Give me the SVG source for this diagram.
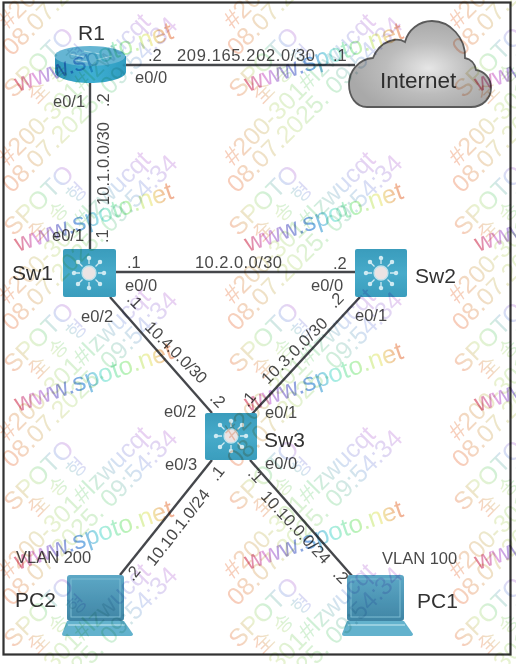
<svg xmlns="http://www.w3.org/2000/svg" xmlns:xlink="http://www.w3.org/1999/xlink" width="516" height="664" viewBox="0 0 516 664">
<style>
text{font-family:"Liberation Sans",Arial,sans-serif}
.l{font-size:16.5px;fill:#4a4a4a}
.n{font-size:21px;fill:#333}
.c{stroke:#45474c;stroke-width:2.4;fill:none}
.wmt{text-anchor:middle;font-size:25px;fill:url(#pale)}
.ko{font-family:"Noto Sans CJK KR","Liberation Sans",sans-serif;font-size:20px;letter-spacing:8px;text-anchor:middle;fill:url(#pale)}
.w3{font-size:25.5px;fill:url(#rainbow)}
.overlay{mix-blend-mode:multiply}
</style>
<defs>
<filter id="soft" x="0" y="0" width="100%" height="100%"><feGaussianBlur stdDeviation="0.55"/></filter>
<linearGradient id="pale"><stop offset="0" stop-color="#f6bda6"/><stop offset=".35" stop-color="#e2efc4"/><stop offset=".6" stop-color="#c2eccb"/><stop offset=".8" stop-color="#c8d6f2"/><stop offset="1" stop-color="#e4c2ee"/></linearGradient>
<linearGradient id="rainbow"><stop offset="0" stop-color="#de6a78"/><stop offset=".14" stop-color="#dc98e2"/><stop offset=".28" stop-color="#8b8cd6"/><stop offset=".42" stop-color="#5f9fe0"/><stop offset=".55" stop-color="#95e8e2"/><stop offset=".7" stop-color="#aef0aa"/><stop offset=".85" stop-color="#eff0a0"/><stop offset="1" stop-color="#ef9c80"/></linearGradient>
<linearGradient id="swf" x1="0" y1="0" x2="0" y2="1"><stop offset="0" stop-color="#3a9cbc"/><stop offset=".5" stop-color="#47abca"/><stop offset="1" stop-color="#3a9dbd"/></linearGradient>
<linearGradient id="rtb" x1="0" y1="0" x2="1" y2="0"><stop offset="0" stop-color="#2f94b8"/><stop offset=".5" stop-color="#3fb0d4"/><stop offset="1" stop-color="#2f9cc0"/></linearGradient>
<linearGradient id="lap" x1="0" y1="0" x2="0" y2="1"><stop offset="0" stop-color="#5da8c6"/><stop offset="1" stop-color="#3f85a5"/></linearGradient>
<radialGradient id="cloudf" cx=".56" cy=".55" r=".55"><stop offset="0" stop-color="#e6e6e6"/><stop offset=".55" stop-color="#bcbcbc"/><stop offset="1" stop-color="#a9a9a9"/></radialGradient>
<g id="swIcon" stroke="#cfeaf2" fill="#cfeaf2" stroke-width="1.3">
<circle r="7" fill="#ece3e3" stroke="#bfe2ec"/>
<path d="M0-9V-15M0 9V15M-9 0H-15M9 0H15M-6.5-6.5L-11-11M6.5-6.5L11-11M-6.5 6.5L-11 11M6.5 6.5L11 11" fill="none"/>
<circle cx="0" cy="-15" r="1.6"/><circle cx="0" cy="15" r="1.6"/><circle cx="-15" cy="0" r="1.6"/><circle cx="15" cy="0" r="1.6"/><circle cx="-11" cy="-11" r="1.6"/><circle cx="11" cy="-11" r="1.6"/><circle cx="-11" cy="11" r="1.6"/><circle cx="11" cy="11" r="1.6"/>
</g>
<g id="laptop">
<rect x="5" y="0" width="57" height="46" rx="3" fill="url(#lap)"/>
<rect x="9" y="4" width="49" height="38" fill="none" stroke="#7fbdd3" stroke-width="1"/>
<path d="M5 46H62L71 59Q71 61 68 61H2Q0 61 0 59Z" fill="#63b2cd"/>
<path d="M6 50H63" stroke="#a9d8e6" stroke-width="1.5"/>
</g>
<g id="wm">
<text class="wmt" x="-6" y="-44">SPOTO</text>
<text class="ko" x="3" y="-24">全송형</text>
<text class="wmt" x="0" y="0">#200-301#lzwucqt</text>
<text class="wmt" x="0" y="22">08.07.2025. 09:54:34</text>
</g>
<text id="www" class="w3" transform="rotate(-19)">www.spoto.net</text>
</defs>
<g filter="url(#soft)">
<rect width="516" height="664" fill="#fff"/>
<rect x="3.5" y="2.5" width="507" height="652" fill="none" stroke="#303030" stroke-width="2.2"/>
<g id="connectors">
<path class="c" d="M126 65H355"/>
<path class="c" d="M90 82V250"/>
<path class="c" d="M115 272H356"/>
<path class="c" d="M110 297L212 413"/>
<path class="c" d="M360 297L252 414"/>
<path class="c" d="M212 460L120 575"/>
<path class="c" d="M250 460L353 577"/>
</g>
<g id="R1">
<path d="M55 56V72C55 78 72 83 90 83S126 78 126 72V56Z" fill="url(#rtb)"/>
<ellipse cx="90" cy="56" rx="35.500" ry="10" fill="#65b5d3"/>
<path d="M70 54L84 57M84 51L100 54M96 60L112 56M74 60L88 62" stroke="#a9d8e6" stroke-width="1.200" fill="none"/>
<text class="n" x="78" y="40">R1</text>
</g>
<g id="Internet">
<path d="M367 107H471C483 107 491 98 491 88C491 78 484 71 476 70C475 63 470 59 465 58C466 38 450 21 432 21C419 21 408 30 405 42C397 37 380 40 373 58C358 59 349 72 349 84C349 97 356 107 367 107Z" fill="url(#cloudf)" stroke="#5a5a5a" stroke-width="1.800"/>
<text x="380" y="88" font-size="22.500" fill="#2e2e2e">Internet</text>
</g>
<g id="Sw1">
<rect x="63" y="249" width="53" height="48" rx="2" fill="url(#swf)"/>
<use href="#swIcon" x="89" y="273"/>
<text class="n" x="12" y="280">Sw1</text>
</g>
<g id="Sw2">
<rect x="355" y="249" width="52" height="48" rx="2" fill="url(#swf)"/>
<use href="#swIcon" x="381" y="273"/>
<text class="n" x="415" y="283">Sw2</text>
</g>
<g id="Sw3">
<rect x="205" y="413" width="52" height="47" rx="2" fill="url(#swf)"/>
<use href="#swIcon" x="231" y="436"/>
<text class="n" x="264" y="447">Sw3</text>
</g>
<g id="PC2">
<use href="#laptop" x="62" y="575"/>
<text class="n" x="15" y="607">PC2</text>
<text class="l" x="16" y="563">VLAN 200</text>
</g>
<g id="PC1">
<use href="#laptop" x="342" y="575"/>
<text class="n" x="417" y="608">PC1</text>
<text class="l" x="382" y="564">VLAN 100</text>
</g>
<g id="labels">
<text class="l" x="148" y="61">.2</text>
<text class="l" x="177" y="61" textLength="138">209.165.202.0/30</text>
<text class="l" x="333" y="61">.1</text>
<text class="l" x="135" y="83">e0/0</text>
<text class="l" x="53" y="107">e0/1</text>
<text class="l" transform="translate(109 107) rotate(-90)">.2</text>
<text class="l" transform="translate(109 205) rotate(-90)" textLength="83">10.1.0.0/30</text>
<text class="l" transform="translate(108 243) rotate(-90)">.1</text>
<text class="l" x="52" y="241">e0/1</text>
<text class="l" x="127" y="268">.1</text>
<text class="l" x="195" y="268" textLength="87">10.2.0.0/30</text>
<text class="l" x="333" y="269">.2</text>
<text class="l" x="125" y="291">e0/0</text>
<text class="l" x="311" y="291">e0/0</text>
<text class="l" x="81" y="322">e0/2</text>
<text class="l" x="355" y="321">e0/1</text>
<text class="l" transform="translate(126 300) rotate(45)">.1</text>
<text class="l" transform="translate(144 328) rotate(45)" textLength="80">10.4.0.0/30</text>
<text class="l" transform="translate(209 399) rotate(45)">.2</text>
<text class="l" x="164" y="417">e0/2</text>
<text class="l" transform="translate(335 309) rotate(-45)">.2</text>
<text class="l" transform="translate(268 385) rotate(-45)" textLength="86">10.3.0.0/30</text>
<text class="l" transform="translate(248 408) rotate(-50)">.1</text>
<text class="l" x="265" y="418">e0/1</text>
<text class="l" x="165" y="470">e0/3</text>
<text class="l" x="265" y="469">e0/0</text>
<text class="l" transform="translate(217 482) rotate(-52)">.1</text>
<text class="l" transform="translate(154 567) rotate(-52)" textLength="92">10.10.1.0/24</text>
<text class="l" transform="translate(133 582) rotate(-52)">.2</text>
<text class="l" transform="translate(247 474) rotate(47)">.1</text>
<text class="l" transform="translate(260 497) rotate(47)" textLength="93">10.10.0.0/24</text>
<text class="l" transform="translate(332 575) rotate(45)">.2</text>
</g>
<g id="watermark" class="overlay" opacity=".78">
<g transform="translate(-145 -42) rotate(-45)"><use href="#wm"/></g><g transform="translate(80 -42) rotate(-45)"><use href="#wm"/></g><g transform="translate(305 -42) rotate(-45)"><use href="#wm"/></g><g transform="translate(530 -42) rotate(-45)"><use href="#wm"/></g>
<g transform="translate(-145 95) rotate(-45)"><use href="#wm"/></g><g transform="translate(80 95) rotate(-45)"><use href="#wm"/></g><g transform="translate(305 95) rotate(-45)"><use href="#wm"/></g><g transform="translate(530 95) rotate(-45)"><use href="#wm"/></g>
<g transform="translate(-145 233) rotate(-45)"><use href="#wm"/></g><g transform="translate(80 233) rotate(-45)"><use href="#wm"/></g><g transform="translate(305 233) rotate(-45)"><use href="#wm"/></g><g transform="translate(530 233) rotate(-45)"><use href="#wm"/></g>
<g transform="translate(-145 370) rotate(-45)"><use href="#wm"/></g><g transform="translate(80 370) rotate(-45)"><use href="#wm"/></g><g transform="translate(305 370) rotate(-45)"><use href="#wm"/></g><g transform="translate(530 370) rotate(-45)"><use href="#wm"/></g>
<g transform="translate(-145 508) rotate(-45)"><use href="#wm"/></g><g transform="translate(80 508) rotate(-45)"><use href="#wm"/></g><g transform="translate(305 508) rotate(-45)"><use href="#wm"/></g><g transform="translate(530 508) rotate(-45)"><use href="#wm"/></g>
<g transform="translate(-145 645) rotate(-45)"><use href="#wm"/></g><g transform="translate(80 645) rotate(-45)"><use href="#wm"/></g><g transform="translate(305 645) rotate(-45)"><use href="#wm"/></g><g transform="translate(530 645) rotate(-45)"><use href="#wm"/></g>
<g transform="translate(80 783) rotate(-45)"><use href="#wm"/></g><g transform="translate(305 783) rotate(-45)"><use href="#wm"/></g>
</g>
<g id="watermark-url" class="overlay" opacity=".85">
<g transform="translate(18 92)"><use href="#www"/></g><g transform="translate(248 92)"><use href="#www"/></g><g transform="translate(478 92)"><use href="#www"/></g>
<g transform="translate(18 252)"><use href="#www"/></g><g transform="translate(248 252)"><use href="#www"/></g><g transform="translate(478 252)"><use href="#www"/></g>
<g transform="translate(18 412)"><use href="#www"/></g><g transform="translate(248 412)"><use href="#www"/></g><g transform="translate(478 412)"><use href="#www"/></g>
<g transform="translate(18 570)"><use href="#www"/></g><g transform="translate(248 570)"><use href="#www"/></g><g transform="translate(478 570)"><use href="#www"/></g>
</g>
</g>
</svg>
